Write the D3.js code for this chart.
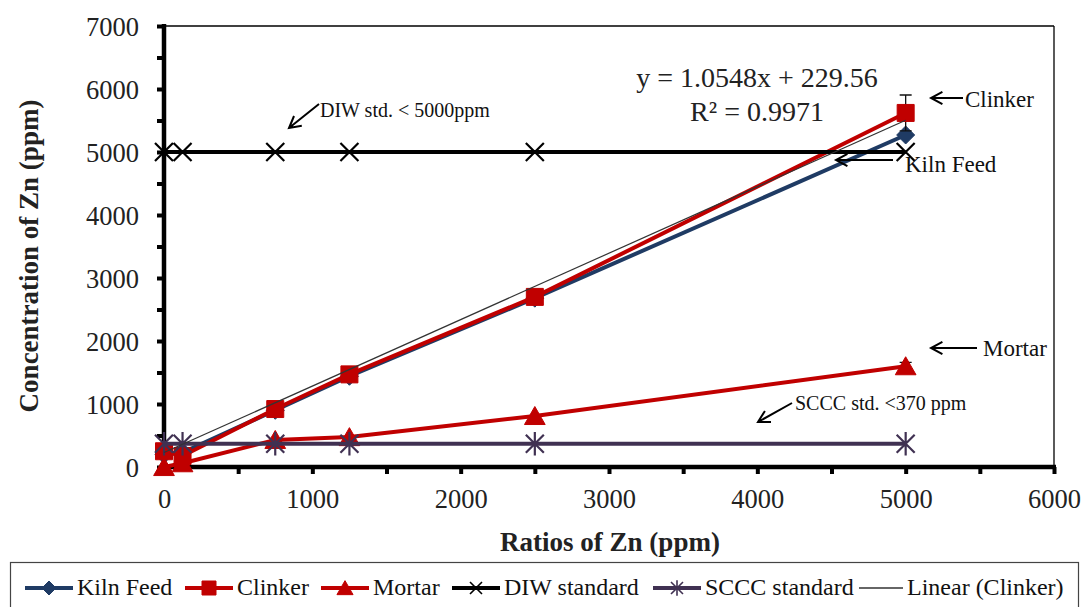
<!DOCTYPE html>
<html>
<head>
<meta charset="utf-8">
<script src="https://cdn.jsdelivr.net/npm/d3@7/dist/d3.min.js"></script>
<style>
  html, body { margin: 0; padding: 0; background: #fff; }
  svg { display: block; font-family: "Liberation Serif", "Times New Roman", serif; }
</style>
</head>
<body>
<svg id="chart" width="1086" height="607"></svg>
<script>
// Zn ratio (ppm) used for every series
const ratios = [0, 125, 750, 1250, 2500, 5000];

// Measured Zn concentration (ppm)
const kilnFeed = [200, 230, 900, 1440, 2680, 5270];
const clinker  = [250, 175, 920, 1470, 2700, 5620];
const mortar   = [0, 60, 430, 475, 810, 1600];
const diwStd   = [5000, 5000, 5000, 5000, 5000, 5000];
const scccStd  = [370, 370, 370, 370, 370, 370];

// Error bar half-widths at each ratio
const clinkerErr = [0, 0, 0, 0, 0, 285];
const mortarErr  = [0, 0, 0, 0, 0, 60];

// Linear trend fitted to the clinker data
const fitSlope = 1.0548;
const fitIntercept = 229.56;
const fitR2 = 0.9971;

const xTicks = [0, 1000, 2000, 3000, 4000, 5000, 6000];
const yTicks = [0, 1000, 2000, 3000, 4000, 5000, 6000, 7000];
const minorStep = 500;

const legendLabels = ["Kiln Feed", "Clinker", "Mortar", "DIW standard", "SCCC standard", "Linear (Clinker)"];

const svg = d3.select("#chart");

const x = d3.scaleLinear().domain([0, 6000]).range([164, 1054]);
const y = d3.scaleLinear().domain([0, 7000]).range([467, 26]);

const red = "#C00000", blue = "#1F3B64", purple = "#403152", black = "#000";

// plot frame: thin top/right, heavy left/bottom axes
svg.append("line").attr("x1", x(0)).attr("x2", x(6000)).attr("y1", y(7000)).attr("y2", y(7000))
  .attr("stroke", black).attr("stroke-width", 1.3);
svg.append("line").attr("x1", x(6000)).attr("x2", x(6000)).attr("y1", y(7000)).attr("y2", y(0))
  .attr("stroke", black).attr("stroke-width", 1.3);

const xAxis = d3.axisBottom(x).tickValues(d3.range(0, 6001, minorStep)).tickSize(7)
  .tickFormat(d => xTicks.includes(d) ? d : "");
const yAxis = d3.axisLeft(y).tickValues(d3.range(0, 7001, minorStep)).tickSize(7)
  .tickFormat(d => yTicks.includes(d) ? d : "");

const gx = svg.append("g").attr("transform", `translate(0,${y(0)})`).call(xAxis);
const gy = svg.append("g").attr("transform", `translate(${x(0)},0)`).call(yAxis);
[gx, gy].forEach(g => {
  g.attr("font-family", null).attr("font-size", null);
  g.select(".domain").attr("stroke", black).attr("stroke-width", 4.5);
  g.selectAll(".tick line").attr("stroke", black).attr("stroke-width", 4);
  g.selectAll(".tick text").attr("fill", "#222").style("font-family", "Liberation Serif, serif")
    .style("font-size", "26.5px");
});
gx.select(".domain").attr("d", `M${x(0) - 2},0H${x(6000) + 2}`);
gy.select(".domain").attr("d", `M0,${y(7000) - 2}V${y(0) + 2}`);
gx.selectAll(".tick text").attr("dy", 0).attr("y", 41);
gy.selectAll(".tick text").attr("x", -25).attr("dy", "0.34em");

// axis titles
svg.append("text").attr("x", 610).attr("y", 551).attr("text-anchor", "middle")
  .style("font-weight", "bold").style("font-size", "27px").attr("fill", "#222")
  .text("Ratios of Zn (ppm)");
svg.append("text").attr("transform", "translate(38,256) rotate(-90)").attr("text-anchor", "middle")
  .style("font-weight", "bold").style("font-size", "27px").attr("fill", "#222")
  .text("Concentration of Zn (ppm)");

// marker shapes
function marker(kind, size) {
  const s = size;
  switch (kind) {
    case "diamond": return `M0,${-s}L${s},0L0,${s}L${-s},0Z`;
    case "square": return `M${-s},${-s}H${s}V${s}H${-s}Z`;
    case "triangle": return `M0,${-s * 1.05}L${s * 1.15},${s * 0.95}H${-s * 1.15}Z`;
    case "x": return `M${-s},${-s}L${s},${s}M${-s},${s}L${s},${-s}`;
    case "star": return `M${-s},${-s}L${s},${s}M${-s},${s}L${s},${-s}M0,${-s * 1.3}V${s * 1.3}`;
  }
}

const series = [
  { name: legendLabels[0], values: kilnFeed, color: blue, kind: "diamond", size: 9, fill: true },
  { name: legendLabels[1], values: clinker, color: red, kind: "square", size: 8.5, fill: true, err: clinkerErr },
  { name: legendLabels[2], values: mortar, color: red, kind: "triangle", size: 9, fill: true, err: mortarErr },
  { name: legendLabels[3], values: diwStd, color: black, kind: "x", size: 9, fill: false },
  { name: legendLabels[4], values: scccStd, color: purple, kind: "star", size: 9, fill: false }
];

const line = d3.line().x(d => x(d[0])).y(d => y(d[1]));

series.forEach(s => {
  const pts = ratios.map((r, i) => [r, s.values[i]]);
  const g = svg.append("g");
  if (s.err) {
    pts.forEach((p, i) => {
      const e = s.err[i];
      if (!e) return;
      g.append("path").attr("fill", "none").attr("stroke", "#111").attr("stroke-width", 1.3)
        .attr("d", `M${x(p[0])},${y(p[1] - e)}V${y(p[1] + e)}M${x(p[0]) - 6},${y(p[1] + e)}h12M${x(p[0]) - 6},${y(p[1] - e)}h12`);
    });
  }
  g.append("path").datum(pts).attr("d", line).attr("fill", "none")
    .attr("stroke", s.color).attr("stroke-width", 4);
  g.selectAll("path.m").data(pts).join("path").attr("class", "m")
    .attr("transform", d => `translate(${x(d[0])},${y(d[1])})`)
    .attr("d", marker(s.kind, s.size))
    .attr("fill", s.fill ? s.color : "none")
    .attr("stroke", s.color).attr("stroke-width", s.fill ? 1 : 2.2);
});

// linear trend line for clinker over the data range
const fitPts = [ratios[0], ratios[ratios.length - 1]].map(r => [r, fitSlope * r + fitIntercept]);
svg.append("path").datum(fitPts).attr("d", line).attr("fill", "none")
  .attr("stroke", "#333").attr("stroke-width", 1.2);

// trend equation
svg.append("text").attr("x", 757).attr("y", 87).attr("text-anchor", "middle")
  .style("font-size", "28px").attr("fill", "#222")
  .text(`y = ${fitSlope}x + ${fitIntercept}`);
svg.append("text").attr("x", 757).attr("y", 121).attr("text-anchor", "middle")
  .style("font-size", "28px").attr("fill", "#222")
  .text(`R² = ${fitR2}`);

// callout arrows with open heads
function arrow(x1, y1, x2, y2) {
  const a = Math.atan2(y2 - y1, x2 - x1), L = 13, w = 0.5;
  const p1 = [x2 - L * Math.cos(a - w), y2 - L * Math.sin(a - w)];
  const p2 = [x2 - L * Math.cos(a + w), y2 - L * Math.sin(a + w)];
  svg.append("path").attr("fill", "none").attr("stroke", black).attr("stroke-width", 2)
    .attr("d", `M${x1},${y1}L${x2},${y2}M${p1[0]},${p1[1]}L${x2},${y2}L${p2[0]},${p2[1]}`);
}
function note(tx, ty, size, txt) {
  svg.append("text").attr("x", tx).attr("y", ty).style("font-size", size + "px")
    .attr("fill", "#111").text(txt);
}
arrow(319, 104, 289, 128);
note(320, 117, 20, "DIW std. < 5000ppm");
arrow(963, 98, 931, 98);
note(965, 107, 23, "Clinker");
arrow(893, 160, 836, 160);
note(905, 172, 23, "Kiln Feed");
arrow(977, 348, 931, 348);
note(983, 356, 23, "Mortar");
arrow(792, 403, 758, 422);
note(795, 410, 20, "SCCC std. <370 ppm");

// legend
svg.append("rect").attr("x", 10.5).attr("y", 562.5).attr("width", 1068).attr("height", 60)
  .attr("fill", "#fff").attr("stroke", "#444").attr("stroke-width", 1.2);
const legendTextX = [77, 237, 373, 504, 705, 907];
const ly = 588;
legendLabels.forEach((lab, i) => {
  const tx = legendTextX[i];
  const g = svg.append("g");
  if (i < series.length) {
    const s = series[i];
    g.append("line").attr("x1", tx - 52).attr("x2", tx - 4).attr("y1", ly).attr("y2", ly)
      .attr("stroke", s.color).attr("stroke-width", 4);
    g.append("path").attr("transform", `translate(${tx - 28},${ly})`)
      .attr("d", marker(s.kind, s.kind === "x" || s.kind === "star" ? 6 : 7))
      .attr("fill", s.fill ? s.color : "none").attr("stroke", s.color)
      .attr("stroke-width", s.fill ? 1 : 1.6);
  } else {
    g.append("line").attr("x1", tx - 48).attr("x2", tx - 4).attr("y1", ly).attr("y2", ly)
      .attr("stroke", "#333").attr("stroke-width", 1.3);
  }
  g.append("text").attr("x", tx).attr("y", ly + 7).style("font-size", "24px")
    .attr("fill", "#111").text(lab);
});
</script>
</body>
</html>
